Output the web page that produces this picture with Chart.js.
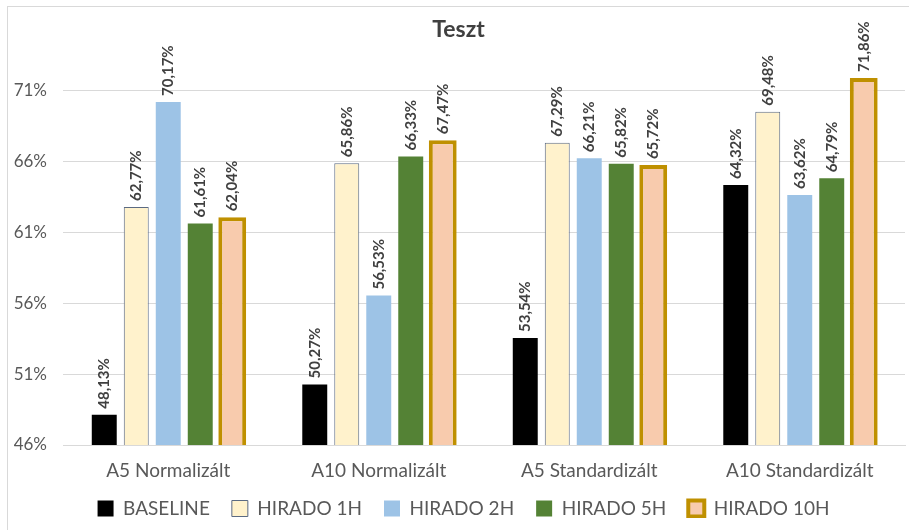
<!DOCTYPE html>
<html>
<head>
<meta charset="utf-8">
<script src="https://cdn.jsdelivr.net/npm/chart.js@4/dist/chart.umd.min.js"></script>
<style>
  html, body { margin: 0; padding: 0; background: #fff; }
  #wrap { width: 909px; height: 530px; }
</style>
</head>
<body>
<div id="wrap"><canvas id="myChart" width="909" height="530"></canvas></div>
<script>
const categories = ["A5 Normalizált", "A10 Normalizált", "A5 Standardizált", "A10 Standardizált"];
const baseline = [48.13, 50.27, 53.54, 64.32];
const hirado1h = [62.77, 65.86, 67.29, 69.48];
const hirado2h = [70.17, 56.53, 66.21, 63.62];
const hirado5h = [61.61, 66.33, 65.82, 64.79];
const hirado10h = [62.04, 67.47, 65.72, 71.86];
const yTicks = [46, 51, 56, 61, 66, 71];

const FONT = "Lato, 'Open Sans', sans-serif";

// vertical value labels above each bar, outer frame, and a tighter legend box
const barLabels = {
  id: "barLabels",
  beforeLayout(chart) {
    const lg = chart.legend;
    if (lg && !lg._tight) {
      const fit = lg.fit;
      lg.fit = function () { fit.call(this); this.height = 41; };
      lg._tight = true;
    }
  },
  afterLayout(chart) {
    chart.legend.top -= 6;
    chart.legend.bottom -= 6;
    chart.legend.left += 11;
    chart.legend.right += 11;
    chart.titleBlock.left += 6;
    chart.titleBlock.right += 6;
  },
  beforeDraw(chart) {
    const ctx = chart.ctx;
    ctx.save();
    ctx.strokeStyle = "#d9d9d9";
    ctx.lineWidth = 1;
    ctx.strokeRect(7.5, 6.5, 1000, 1000);
    ctx.restore();
  },
  afterDatasetsDraw(chart) {
    const ctx = chart.ctx;
    ctx.save();
    ctx.font = "bold 15px " + FONT;
    ctx.fillStyle = "#404040";
    ctx.textAlign = "left";
    ctx.textBaseline = "middle";
    chart.data.datasets.forEach((ds, i) => {
      chart.getDatasetMeta(i).data.forEach((bar, j) => {
        const txt = ds.data[j].toFixed(2).replace(".", ",") + "%";
        ctx.save();
        ctx.translate(bar.x, bar.y - 6);
        ctx.rotate(-Math.PI / 2);
        ctx.fillText(txt, 0, 0);
        ctx.restore();
      });
    });
    ctx.restore();
  }
};

new Chart("myChart", {
  type: "bar",
  data: {
    labels: categories,
    datasets: [
      { label: "BASELINE", data: baseline, backgroundColor: "#000000", borderWidth: 0 },
      { label: "HIRADO 1H", data: hirado1h, backgroundColor: "#FFF2CC", borderColor: "#5B6A82", borderWidth: 1 },
      { label: "HIRADO 2H", data: hirado2h, backgroundColor: "#9DC3E6", borderWidth: 0 },
      { label: "HIRADO 5H", data: hirado5h, backgroundColor: "#548235", borderWidth: 0 },
      { label: "HIRADO 10H", data: hirado10h, backgroundColor: "#F8CBAD", borderColor: "#BF9000", borderWidth: 4, barPercentage: 0.87 }
    ]
  },
  options: {
    responsive: false,
    animation: false,
    layout: { padding: { left: 0, right: 4, top: 0, bottom: 6 } },
    datasets: {
      bar: { barPercentage: 0.78, categoryPercentage: 0.76, borderSkipped: false }
    },
    plugins: {
      title: {
        display: true,
        text: "Teszt",
        color: "#404040",
        font: { family: FONT, size: 23, weight: "bold" },
        padding: { top: 16, bottom: 4 }
      },
      legend: {
        position: "bottom",
        labels: {
          color: "#595959",
          font: { family: FONT, size: 19 },
          boxWidth: 16,
          boxHeight: 16,
          padding: 22
        }
      },
      tooltip: { enabled: false }
    },
    scales: {
      x: {
        grid: { display: false, drawTicks: false },
        border: { color: "#d9d9d9" },
        ticks: { color: "#595959", font: { family: FONT, size: 19 }, padding: 14 },
        afterFit(scale) { scale.height = 38; }
      },
      y: {
        min: 46,
        max: 74,
        grid: { color: "#d9d9d9", drawTicks: false },
        border: { display: false },
        ticks: {
          color: "#595959",
          font: { family: FONT, size: 17 },
          padding: 16,
          callback: v => v + "%"
        },
        afterBuildTicks(scale) { scale.ticks = yTicks.map(v => ({ value: v })); },
        afterFit(scale) { scale.width = 63; }
      }
    }
  },
  plugins: [barLabels]
});
</script>
</body>
</html>
